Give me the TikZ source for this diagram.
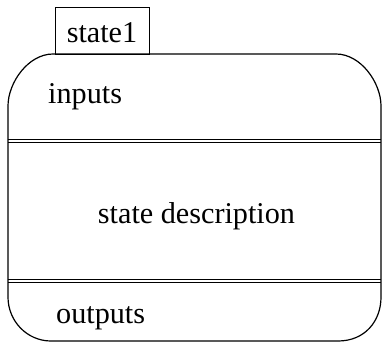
\documentclass[tikz,border=0pt]{standalone}
\usepackage{fontspec}
\setmainfont{Liberation Serif}
\begin{document}
\begin{tikzpicture}[x=1pt,y=-1pt,
  lbl/.style={inner sep=0pt,font=\fontsize{30.2}{36}\selectfont},
  outline/.style={draw=black,line width=1.2pt},
  sep/.style={draw=black,line width=1pt}]
\useasboundingbox (0,0) rectangle (382,343);
% tab
\draw[line width=1pt] (55,54) rectangle (149,7.5);
\node[lbl,anchor=base] (title) at (102,42) {state1};
% main rounded box (elliptical corners)
\draw[outline] (53,54) -- (336,54)
  .. controls (360.85,54) and (381,82.7) .. (381,106)
  -- (381,297)
  .. controls (381,321.3) and (364.75,341) .. (338,341)
  -- (51,341)
  .. controls (27.25,341) and (8,321.3) .. (8,297)
  -- (8,106)
  .. controls (8,82.7) and (28.15,54) .. (53,54) -- cycle;
% separators
\coordinate (l1) at (8,139.3); \coordinate (r1) at (381,139.3);
\coordinate (l2) at (8,142.3); \coordinate (r2) at (381,142.3);
\coordinate (l3) at (8,279.3); \coordinate (r3) at (381,279.3);
\coordinate (l4) at (8,282.3); \coordinate (r4) at (381,282.3);
\draw[sep] (l1) -- (r1);
\draw[sep] (l2) -- (r2);
\draw[sep] (l3) -- (r3);
\draw[sep] (l4) -- (r4);
% texts
\node[lbl,anchor=base west] (inputs) at (48,103) {inputs};
\node[lbl,anchor=base] (desc) at (196.5,223) {state description};
\node[lbl,anchor=base west] (outputs) at (56,323) {outputs};
\end{tikzpicture}
\end{document}
